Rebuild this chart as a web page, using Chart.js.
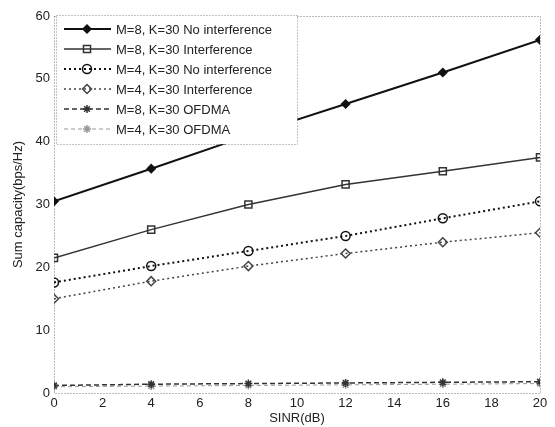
<!DOCTYPE html>
<html>
<head>
<meta charset="utf-8">
<script src="https://cdn.jsdelivr.net/npm/chart.js@4/dist/chart.umd.min.js"></script>
<style>
  html, body { margin: 0; padding: 0; background: #fff; }
  #wrap { width: 555px; height: 427px; }
</style>
</head>
<body>
<div id="wrap"><canvas id="capacityChart" width="555" height="427"></canvas></div>
<script>
// SINR values (dB) and sum capacity per curve
const sinr = [0, 4, 8, 12, 16, 20];
const m8NoInterf = [30.5, 35.7, 41.0, 46.0, 51.0, 56.2];
const m8Interf = [21.5, 26.0, 30.0, 33.2, 35.3, 37.5];
const m4NoInterf = [17.6, 20.2, 22.6, 25.0, 27.8, 30.5];
const m4Interf = [15.0, 17.8, 20.2, 22.2, 24.0, 25.5];
const m8Ofdma = [1.2, 1.4, 1.5, 1.6, 1.7, 1.8];
const m4Ofdma = [1.0, 1.1, 1.2, 1.3, 1.4, 1.5];
const seriesLabels = [
    'M=8, K=30 No interference',
    'M=8, K=30 Interference',
    'M=4, K=30 No interference',
    'M=4, K=30 Interference',
    'M=8, K=30 OFDMA',
    'M=4, K=30 OFDMA'
];

const toPoints = ys => sinr.map((x, i) => ({ x: x, y: ys[i] }));

function makeSet(label, ys, color, width, dash, style, radius, fill) {
    return {
        label: label,
        data: toPoints(ys),
        borderColor: color,
        borderWidth: width,
        borderDash: dash,
        pointStyle: style,
        pointRadius: radius,
        pointBorderColor: color,
        pointBorderWidth: 1.5,
        pointBackgroundColor: fill,
        tension: 0
    };
}

const datasets = [
    makeSet(seriesLabels[0], m8NoInterf, '#111', 2, [], 'rectRot', 4, '#111'),
    makeSet(seriesLabels[1], m8Interf, '#333', 1.5, [], 'rect', 5, 'rgba(255,255,255,0)'),
    makeSet(seriesLabels[2], m4NoInterf, '#111', 2, [2, 3], 'circle', 4.5, 'rgba(255,255,255,0)'),
    makeSet(seriesLabels[3], m4Interf, '#444', 1.5, [2, 3], 'rectRot', 4.5, 'rgba(255,255,255,0)'),
    makeSet(seriesLabels[4], m8Ofdma, '#333', 1.5, [5, 3], 'star', 4, '#333'),
    makeSet(seriesLabels[5], m4Ofdma, '#999', 1, [4, 3], 'star', 4, '#999')
];

// Dotted axes box, drawn MATLAB-style
const boxPlugin = {
    id: 'boxPlugin',
    beforeDatasetsDraw(chart) {
        const a = chart.chartArea;
        const ctx = chart.ctx;
        ctx.save();
        ctx.strokeStyle = '#777';
        ctx.lineWidth = 1;
        ctx.setLineDash([1, 2]);
        ctx.strokeRect(a.left + 0.5, a.top + 0.5, a.right - a.left, a.bottom - a.top);
        ctx.restore();
    }
};

// Legend inside the plot, top-left corner
const innerLegend = {
    id: 'innerLegend',
    afterDatasetsDraw(chart) {
        const ctx = chart.ctx;
        const x0 = 56, y0 = 15, w = 241, h = 129;
        ctx.save();
        ctx.fillStyle = '#fff';
        ctx.fillRect(x0, y0, w, h);
        ctx.strokeStyle = '#888';
        ctx.lineWidth = 1;
        ctx.setLineDash([1, 2]);
        ctx.strokeRect(x0 + 0.5, y0 + 0.5, w, h);
        chart.data.datasets.forEach((ds, i) => {
            const y = y0 + 14 + i * 20;
            ctx.setLineDash(ds.borderDash || []);
            ctx.strokeStyle = ds.borderColor;
            ctx.lineWidth = ds.borderWidth;
            ctx.beginPath();
            ctx.moveTo(x0 + 8, y);
            ctx.lineTo(x0 + 55, y);
            ctx.stroke();
            ctx.setLineDash([]);
            ctx.lineWidth = 1.5;
            ctx.fillStyle = ds.pointBackgroundColor;
            Chart.helpers.drawPoint(ctx, {
                pointStyle: ds.pointStyle,
                radius: ds.pointRadius,
                borderWidth: 1.5,
                rotation: 0
            }, x0 + 31, y);
            ctx.fillStyle = '#222';
            ctx.font = '13px "Liberation Sans", Arial, sans-serif';
            ctx.textBaseline = 'middle';
            ctx.fillText(ds.label, x0 + 60, y + 1);
        });
        ctx.restore();
    }
};

const tickFont = { family: '"Liberation Sans", Arial, sans-serif', size: 13 };

new Chart(document.getElementById('capacityChart'), {
    type: 'line',
    data: { datasets: datasets },
    options: {
        responsive: false,
        animation: false,
        layout: { padding: { top: 16, right: 15, left: 0, bottom: 0 } },
        plugins: {
            legend: { display: false },
            tooltip: { enabled: false }
        },
        scales: {
            x: {
                type: 'linear',
                min: 0,
                max: 20,
                ticks: { stepSize: 2, color: '#222', font: tickFont, padding: 3 },
                grid: { display: false, drawTicks: false },
                border: { display: false },
                title: {
                    display: true,
                    text: 'SINR(dB)',
                    color: '#222',
                    font: { family: tickFont.family, size: 13 },
                    padding: { top: 0, bottom: 1 }
                },
                afterFit(scale) { scale.height = 34; }
            },
            y: {
                min: 0,
                max: 60,
                ticks: { stepSize: 10, color: '#222', font: tickFont, padding: 4 },
                grid: { display: false, drawTicks: false },
                border: { display: false },
                title: {
                    display: true,
                    text: 'Sum capacity(bps/Hz)',
                    color: '#222',
                    font: { family: tickFont.family, size: 13 },
                    padding: { top: 11, bottom: 4 }
                },
                afterFit(scale) { scale.width = 54; }
            }
        }
    },
    plugins: [boxPlugin, innerLegend]
});
</script>
</body>
</html>
